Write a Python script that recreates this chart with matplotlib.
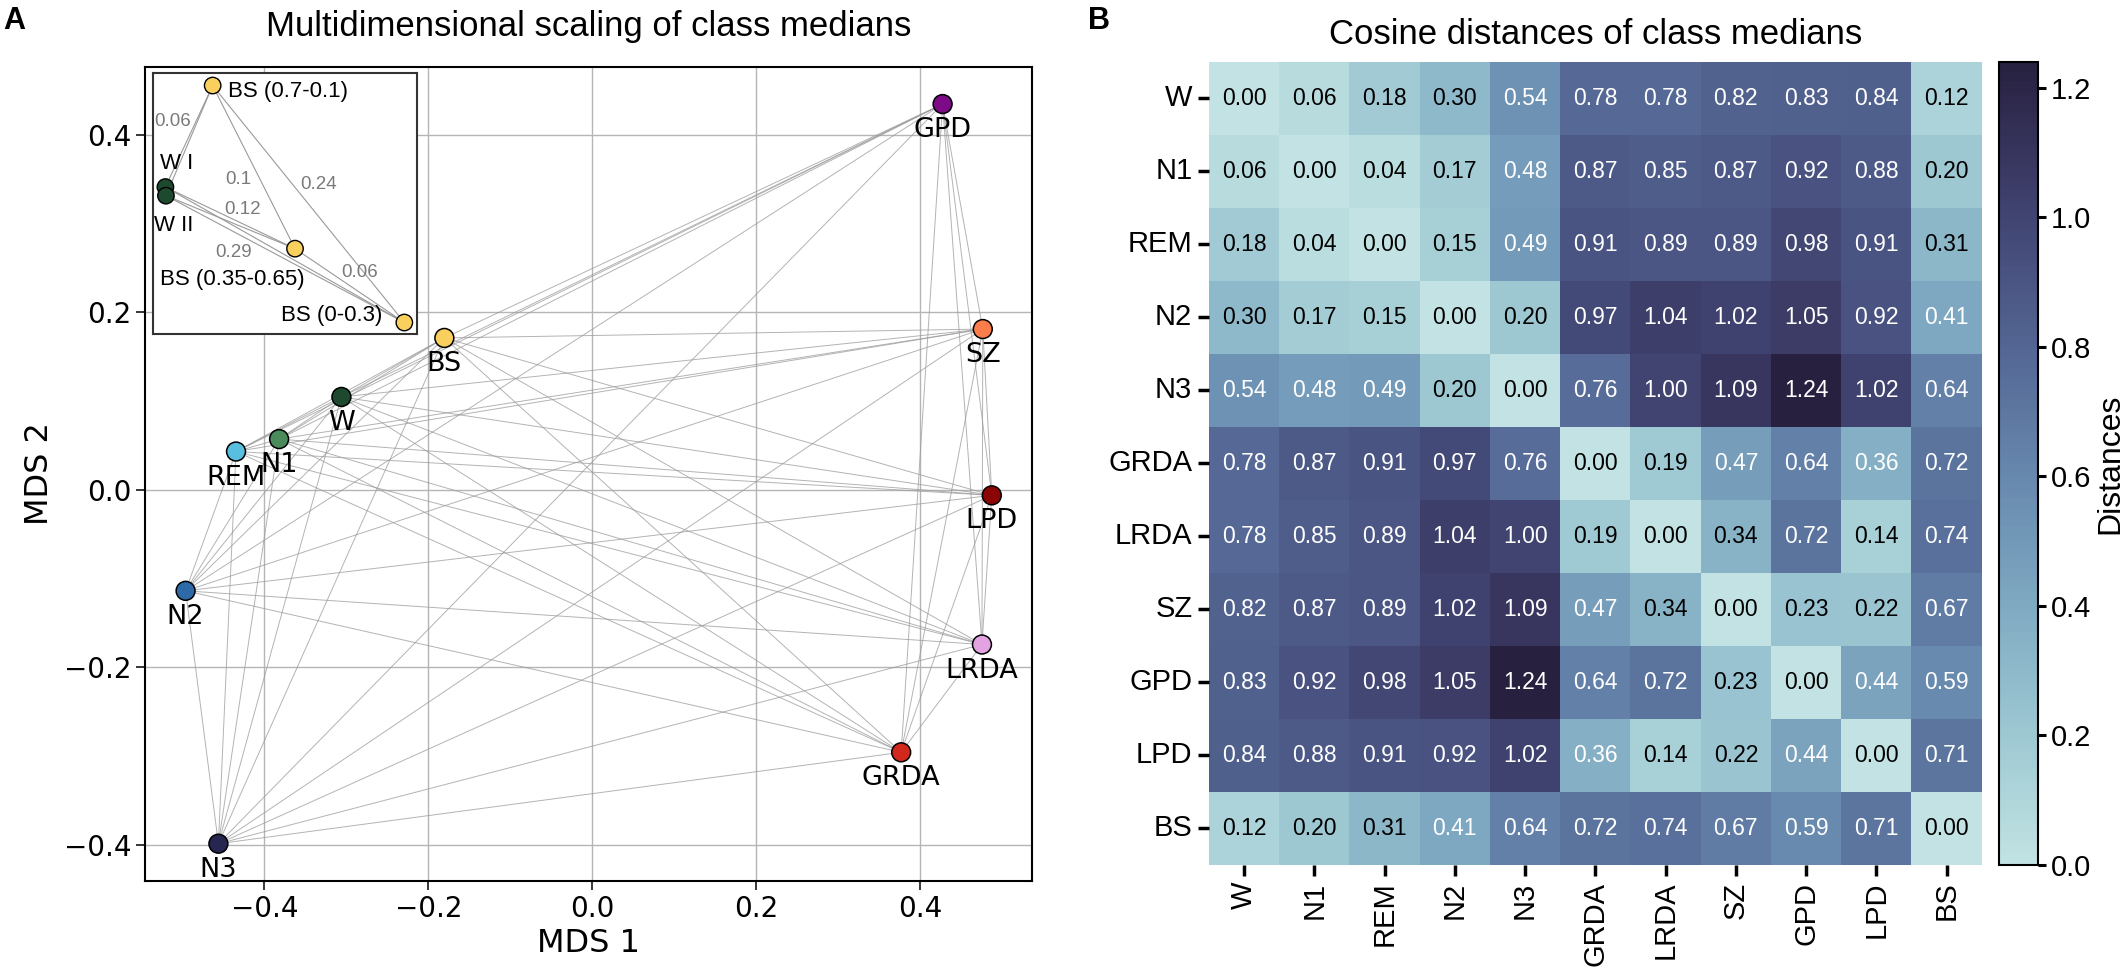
import numpy as np
import pandas as pd
import matplotlib
matplotlib.use("Agg")
import matplotlib.pyplot as plt
import seaborn as sns

# class names, used for both panels
classes = ["W", "N1", "REM", "N2", "N3", "GRDA", "LRDA", "SZ", "GPD", "LPD", "BS"]

# MDS coordinates
mds_x = [-0.306, -0.382, -0.4345, -0.496, -0.456, 0.3765, 0.475, 0.476, 0.427, 0.487, -0.1805]
mds_y = [0.1045, 0.057, 0.043, -0.114, -0.399, -0.296, -0.1745, 0.181, 0.4346, -0.0064, 0.171]
point_colors = ["#1d4a2f", "#4b8a5b", "#58bfe0", "#2e6aa7", "#262650", "#d2281c",
                "#e3a3e3", "#fb7d4b", "#7d0a87", "#8b0505", "#f9cf5e"]

# inset: sub-classes of W and BS (normalised inset coordinates)
inset_names = ["W I", "W II", "BS (0.7-0.1)", "BS (0.35-0.65)", "BS (0-0.3)"]
inset_x = [0.047, 0.049, 0.226, 0.538, 0.952]
inset_y = [0.563, 0.530, 0.952, 0.327, 0.044]
inset_colors = ["#1d4a2f", "#1d4a2f", "#f9cf5e", "#f9cf5e", "#f9cf5e"]
inset_edges = [(0, 2), (2, 3), (2, 4), (0, 3), (0, 4), (3, 4)]
inset_edge_vals = ["0.06", "0.1", "0.24", "0.12", "0.29", "0.06"]

# cosine distances of class medians
dist = np.array([
    [0.00, 0.06, 0.18, 0.30, 0.54, 0.78, 0.78, 0.82, 0.83, 0.84, 0.12],
    [0.06, 0.00, 0.04, 0.17, 0.48, 0.87, 0.85, 0.87, 0.92, 0.88, 0.20],
    [0.18, 0.04, 0.00, 0.15, 0.49, 0.91, 0.89, 0.89, 0.98, 0.91, 0.31],
    [0.30, 0.17, 0.15, 0.00, 0.20, 0.97, 1.04, 1.02, 1.05, 0.92, 0.41],
    [0.54, 0.48, 0.49, 0.20, 0.00, 0.76, 1.00, 1.09, 1.24, 1.02, 0.64],
    [0.78, 0.87, 0.91, 0.97, 0.76, 0.00, 0.19, 0.47, 0.64, 0.36, 0.72],
    [0.78, 0.85, 0.89, 1.04, 1.00, 0.19, 0.00, 0.34, 0.72, 0.14, 0.74],
    [0.82, 0.87, 0.89, 1.02, 1.09, 0.47, 0.34, 0.00, 0.23, 0.22, 0.67],
    [0.83, 0.92, 0.98, 1.05, 1.24, 0.64, 0.72, 0.23, 0.00, 0.44, 0.59],
    [0.84, 0.88, 0.91, 0.92, 1.02, 0.36, 0.14, 0.22, 0.44, 0.00, 0.71],
    [0.12, 0.20, 0.31, 0.41, 0.64, 0.72, 0.74, 0.67, 0.59, 0.71, 0.00],
])

ARIAL = "Liberation Sans"
plt.rcParams["font.family"] = "DejaVu Sans"

W, H = 2128, 968
fig = plt.figure(figsize=(W / 100, H / 100), dpi=100)


def box(x0, y0, x1, y1):
    # pixel box (top-left origin) -> figure fraction rect
    return [x0 / W, 1 - y1 / H, (x1 - x0) / W, (y1 - y0) / H]


# ---- A: MDS scatter ----
ax = fig.add_axes(box(145, 66.7, 1032, 880.7))
n = len(classes)
for i in range(n):
    for j in range(i + 1, n):
        ax.plot([mds_x[i], mds_x[j]], [mds_y[i], mds_y[j]], color="#9a9a9a",
                lw=0.7, alpha=0.75, zorder=2)
ax.scatter(mds_x, mds_y, s=185, c=point_colors, edgecolors="black",
           linewidths=1.1, zorder=3)
for i, name in enumerate(classes):
    ax.annotate(name, (mds_x[i], mds_y[i]), xytext=(0, -26), textcoords="offset pixels",
                ha="center", va="center", fontsize=19.5, zorder=4)
ax.set_xlim(-0.5455, 0.536)
ax.set_ylim(-0.4407, 0.4767)
ax.set_xticks([-0.4, -0.2, 0.0, 0.2, 0.4])
ax.set_yticks([-0.4, -0.2, 0.0, 0.2, 0.4])
ax.grid(True, color="#b5b5b5", lw=1.0, zorder=0)
ax.set_axisbelow(True)
ax.tick_params(labelsize=20, length=6.5, width=1.1)
for sp in ax.spines.values():
    sp.set_linewidth(1.5)
ax.set_xlabel("MDS 1", fontsize=23, labelpad=4)
ax.set_ylabel("MDS 2", fontsize=23, labelpad=6)
ax.set_title("Multidimensional scaling of class medians", fontsize=25,
             family=ARIAL, pad=22)

# inset
axi = fig.add_axes(box(153, 73, 417, 334))
axi.set_zorder(5)
for a in range(len(inset_names)):
    for b in range(a + 1, len(inset_names)):
        axi.plot([inset_x[a], inset_x[b]], [inset_y[a], inset_y[b]], color="#9a9a9a",
                 lw=0.8, zorder=2)
axi.scatter(inset_x, inset_y, s=140, c=inset_colors, edgecolors="black",
            linewidths=1.0, zorder=3)
label_style = {
    "W I": ((11, 24), "center"),
    "W II": ((8, -30), "center"),
    "BS (0.7-0.1)": ((15, -6), "left"),
    "BS (0.35-0.65)": ((-63, -31), "center"),
    "BS (0-0.3)": ((-22, 7), "right"),
}
for k, name in enumerate(inset_names):
    off, ha = label_style[name]
    axi.annotate(name, (inset_x[k], inset_y[k]), xytext=off, textcoords="offset pixels",
                 ha=ha, va="center", fontsize=16, family=ARIAL, zorder=4)
edge_offsets = [(-16, 15), (-16, -12), (10, 20), (12, 8), (-51, 2), (10, 13)]
for (a, b), val, off in zip(inset_edges, inset_edge_vals, edge_offsets):
    mx = (inset_x[a] + inset_x[b]) / 2
    my = (inset_y[a] + inset_y[b]) / 2
    axi.annotate(val, (mx, my), xytext=off, textcoords="offset pixels", ha="center",
                 va="center", fontsize=13.5, family=ARIAL, color="#7a7a7a")
axi.set_xlim(0, 1)
axi.set_ylim(0, 1)
axi.set_xticks([])
axi.set_yticks([])
axi.set_facecolor("white")
for sp in axi.spines.values():
    sp.set_linewidth(1.5)
    sp.set_color("#333333")

# ---- B: heatmap ----
axh = fig.add_axes(box(1209, 61.7, 1981.7, 865))
cax = fig.add_axes(box(1999, 61.7, 2038, 865))
cmap = sns.cubehelix_palette(start=0.2, rot=-0.3, as_cmap=True)
df = pd.DataFrame(dist, index=classes, columns=classes)
sns.heatmap(df, ax=axh, cbar_ax=cax, cmap=cmap, vmin=0, vmax=1.24, annot=True,
            fmt=".2f", annot_kws={"size": 16.5, "family": ARIAL})
for t in axh.texts:
    t.set_color("white" if float(t.get_text()) > 0.35 else "black")
axh.set_title("Cosine distances of class medians", fontsize=25, family=ARIAL, pad=13)
axh.tick_params(length=8, width=2.5, pad=4)
axh.set_xticklabels(classes, rotation=90, fontsize=21, family=ARIAL)
axh.set_yticklabels(classes, rotation=0, fontsize=21, family=ARIAL)

cax.tick_params(length=6, width=2.2, labelsize=21, pad=3)
for lbl in cax.get_yticklabels():
    lbl.set_family(ARIAL)
cax.set_ylabel("Distances", fontsize=23, family=ARIAL, labelpad=3)
cbar = axh.collections[0].colorbar
cbar.outline.set_visible(True)
cbar.outline.set_edgecolor("black")
cbar.outline.set_linewidth(1.5)

# panel letters
fig.text(3 / W, 1 - 6 / H, "A", fontsize=22, fontweight="bold", family=ARIAL, va="top")
fig.text(1088 / W, 1 - 6 / H, "B", fontsize=22, fontweight="bold", family=ARIAL, va="top")

fig.savefig("out.png", dpi=100)
